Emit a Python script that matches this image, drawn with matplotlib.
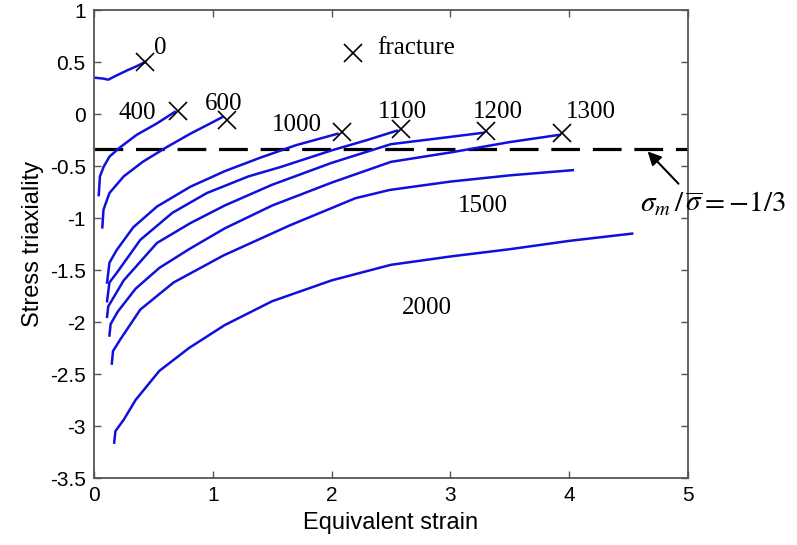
import matplotlib
matplotlib.use('Agg')
import matplotlib.pyplot as plt

plt.rcParams['axes.unicode_minus'] = False
plt.rcParams['mathtext.fontset'] = 'stix'

# equivalent strain / stress triaxiality paths, keyed by curve label
strain = {
    '0':    [0.0, 0.08, 0.12, 0.18, 0.28, 0.36, 0.43],
    '400':  [0.04, 0.05, 0.08, 0.13, 0.22, 0.36, 0.53, 0.68],
    '600':  [0.07, 0.08, 0.13, 0.25, 0.41, 0.61, 0.81, 0.98, 1.08],
    '1000': [0.11, 0.13, 0.19, 0.33, 0.53, 0.81, 1.1, 1.4, 1.7, 2.05],
    '1100': [0.11, 0.13, 0.19, 0.39, 0.66, 0.95, 1.3, 1.57, 2.0, 2.3, 2.55],
    '1200': [0.11, 0.12, 0.25, 0.53, 0.81, 1.1, 1.5, 2.0, 2.5, 3.0, 3.28],
    '1300': [0.13, 0.14, 0.2, 0.35, 0.55, 0.8, 1.1, 1.5, 2.0, 2.5, 3.0, 3.5, 3.92],
    '1500': [0.15, 0.16, 0.22, 0.39, 0.67, 1.09, 1.65, 2.2, 2.49, 3.0, 3.5, 4.03],
    '2000': [0.17, 0.18, 0.25, 0.35, 0.55, 0.8, 1.1, 1.5, 2.0, 2.5, 3.0, 3.5, 4.0, 4.53],
}
triax = {
    '0':    [0.35, 0.34, 0.33, 0.365, 0.42, 0.46, 0.50],
    '400':  [-0.78, -0.60, -0.51, -0.41, -0.32, -0.20, -0.09, 0.02],
    '600':  [-1.09, -0.92, -0.76, -0.60, -0.46, -0.32, -0.19, -0.09, -0.03],
    '1000': [-1.62, -1.43, -1.31, -1.09, -0.89, -0.70, -0.55, -0.42, -0.30, -0.19],
    '1100': [-1.80, -1.62, -1.53, -1.21, -0.95, -0.76, -0.60, -0.51, -0.35, -0.25, -0.16],
    '1200': [-1.95, -1.85, -1.60, -1.24, -1.05, -0.88, -0.68, -0.47, -0.29, -0.22, -0.18],
    '1300': [-2.13, -2.02, -1.90, -1.68, -1.48, -1.30, -1.10, -0.88, -0.66, -0.46, -0.37, -0.27, -0.20],
    '1500': [-2.40, -2.28, -2.17, -1.88, -1.62, -1.36, -1.07, -0.81, -0.73, -0.65, -0.59, -0.54],
    '2000': [-3.16, -3.05, -2.94, -2.75, -2.47, -2.25, -2.03, -1.80, -1.60, -1.45, -1.37, -1.30, -1.22, -1.15],
}

# fracture points (x marks)
frac_strain = [0.43, 0.71, 1.12, 2.09, 2.58, 3.30, 3.94]
frac_triax = [0.50, 0.03, -0.06, -0.17, -0.14, -0.16, -0.18]

# curve labels and where they sit
label_text = ['0', '400', '600', '1000', '1100', '1200', '1300', '1500', '2000']
label_x = [0.56, 0.36, 1.09, 1.71, 2.60, 3.40, 4.18, 3.27, 2.80]
label_y = [0.63, 0.01, 0.10, -0.11, 0.02, 0.02, 0.02, -0.88, -1.87]

limit_triax = -1 / 3

fig = plt.figure(figsize=(7.97, 5.45), dpi=100)
ax = fig.add_axes([94 / 797, 1 - 478 / 545, 594 / 797, 468 / 545])

for k in strain:
    ax.plot(strain[k], triax[k], color='#1010dd', lw=1.8, zorder=2,
            solid_joinstyle='round')

ax.plot(frac_strain, frac_triax, 'x', color='black', ms=13, mew=1.2, zorder=3)

ax.axhline(limit_triax, color='black', lw=2.3, dashes=(9, 4), zorder=1)

for t, x, y in zip(label_text, label_x, label_y):
    ax.text(x, y, t, family='Liberation Serif', fontsize=18,
            ha='center', va='center')

# legend-like marker
ax.plot([2.18], [0.59], 'x', color='black', ms=13, mew=1.2)
ax.text(2.38, 0.63, 'fracture', family='Liberation Serif', fontsize=18,
        ha='left', va='center')

ax.text(4.60, -0.87, r'$\sigma_m\,/\,\overline{\sigma}=-1/3$', fontsize=21,
        ha='left', va='center', clip_on=False)
ax.annotate('', xy=(4.66, -0.36), xytext=(4.92, -0.67), annotation_clip=False,
            arrowprops=dict(arrowstyle='-|>', color='black', lw=1.5,
                            mutation_scale=20, shrinkA=0, shrinkB=0))

ax.set_xlim(0, 5)
ax.set_ylim(-3.5, 1)
ax.set_xticks([0, 1, 2, 3, 4, 5])
ax.set_xticklabels(['0', '1', '2', '3', '4', '5'])
ax.set_yticks([1, 0.5, 0, -0.5, -1, -1.5, -2, -2.5, -3, -3.5])
ax.set_yticklabels(['1', '0.5', '0', '-0.5', '-1', '-1.5', '-2', '-2.5', '-3', '-3.5'])
ax.tick_params(direction='in', top=True, right=True, length=5, width=1,
               color='#555555', labelsize=15, pad=6)
for lab in ax.get_xticklabels() + ax.get_yticklabels():
    lab.set_family('Liberation Sans')
for s in ax.spines.values():
    s.set_color('#555555')
    s.set_linewidth(1.3)

ax.set_xlabel('Equivalent strain', family='Liberation Sans', fontsize=17, labelpad=5)
ax.set_ylabel('Stress triaxiality', family='Liberation Sans', fontsize=17, labelpad=4)

fig.savefig('out.png', dpi=100)
